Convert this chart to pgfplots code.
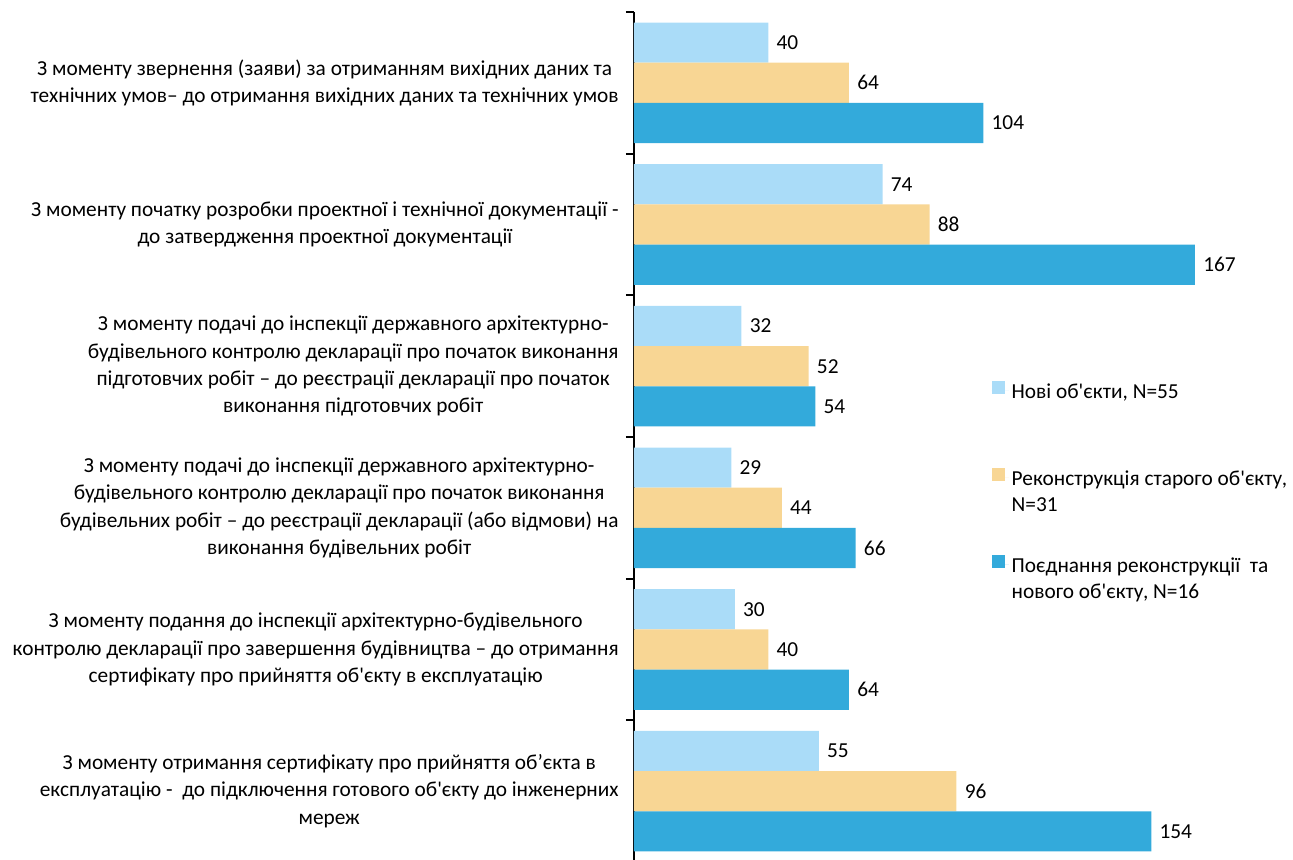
\documentclass[border=0pt]{standalone}
\usepackage{fontspec}
\setmainfont{Carlito}
\usepackage{pgfplots}
\pgfplotsset{compat=1.18}
\definecolor{c1}{RGB}{170,220,248}
\definecolor{c2}{RGB}{248,214,148}
\definecolor{c3}{RGB}{51,170,219}
\newcommand{\ap}{\textquotesingle}
\begin{document}
\begin{tikzpicture}
\begin{axis}[
  name=ax,
  xbar, scale only axis,
  width=478.7pt, height=637.5pt,
  xmin=0, xmax=190,
  ymin=-0.5, ymax=5.5, y dir=reverse,
  axis x line=none,
  axis y line*=left,
  axis line style={line width=1.6pt, black},
  every outer y axis line/.append style={line width=1.6pt, black},
  /pgf/number format/assume math mode=true,
  ytick={0,...,5},
  yticklabels={
    {З моменту звернення (заяви) за отриманням вихідних даних та\\технічних умов– до отримання вихідних даних та технічних умов},
    {З моменту початку розробки проектної і технічної документації -\\до затвердження проектної документації},
    {З моменту подачі до інспекції державного архітектурно-\\будівельного контролю декларації про початок виконання\\підготовчих робіт – до реєстрації декларації про початок\\виконання підготовчих робіт},
    {З моменту подачі до інспекції державного архітектурно-\\будівельного контролю декларації про початок виконання\\будівельних робіт – до реєстрації декларації (або відмови) на\\виконання будівельних робіт},
    {З моменту подання до інспекції архітектурно-будівельного\\контролю декларації про завершення будівництва – до отримання\\сертифікату про прийняття об\ap єкту в експлуатацію},
    {З моменту отримання сертифікату про прийняття об’єкта в\\експлуатацію -\ \ до підключення готового об\ap єкту до інженерних\\мереж}
  },
  major tick length=0pt,
  minor ytick={-0.5,0.5,...,5.5},
  minor tick length=6pt,
  tick align=outside,
  minor tick style={line width=1.6pt, black},
  every minor tick/.append style={line width=1.6pt, black},
  yticklabel style={align=center, font=\fontsize{16}{20.6}\selectfont, xshift=-8pt},
  bar width=0.2837,
  nodes near coords,
  nodes near coords style={font=\fontsize{16}{20.6}\selectfont, black, inner sep=6pt},
  legend style={at={(0.5537,0.5732)}, anchor=north west, draw=none, fill=none,
    font=\fontsize{16}{20.6}\selectfont, row sep=46pt, cells={anchor=west}},
  legend image code/.code={\fill[#1, draw=none] (0pt,-2.5pt) rectangle (9.75pt,7.25pt);
    \path (0pt,0pt) -- (13pt,0pt);},
]
\addplot[fill=c1, draw=none, bar shift=-0.2837] coordinates {(40,0) (74,1) (32,2) (29,3) (30,4) (55,5)};
\addplot[fill=c2, draw=none, bar shift=0] coordinates {(64,0) (88,1) (52,2) (44,3) (40,4) (96,5)};
\addplot[fill=c3, draw=none, bar shift=0.2837] coordinates {(104,0) (167,1) (54,2) (66,3) (64,4) (154,5)};
\legend{{\renewcommand{\arraystretch}{0.95}\begin{tabular}[t]{@{}l@{}}Нові об\ap єкти, N=55\\ \mbox{}\end{tabular}},
  {\renewcommand{\arraystretch}{0.95}\begin{tabular}[t]{@{}l@{}}Реконструкція старого об\ap єкту,\\N=31\end{tabular}},
  {\renewcommand{\arraystretch}{0.95}\begin{tabular}[t]{@{}l@{}}Поєднання реконструкції\ \ та\\нового об\ap єкту, N=16\end{tabular}}}
\end{axis}
\pgfresetboundingbox
\path[use as bounding box] ([xshift=-475.5pt,yshift=9pt]ax.north west) rectangle ([xshift=494.25pt,yshift=-636pt]ax.north west);
\end{tikzpicture}
\end{document}
